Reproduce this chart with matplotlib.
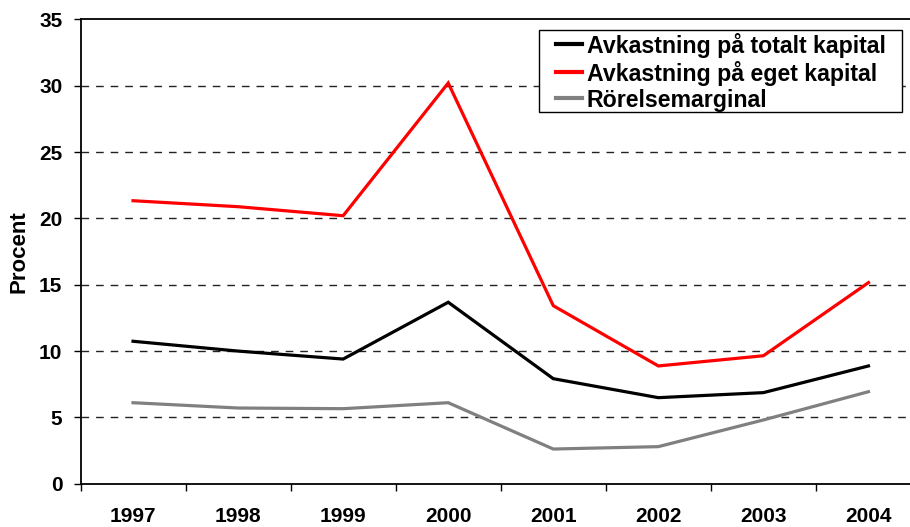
import matplotlib
matplotlib.use("Agg")
import matplotlib.pyplot as plt
from matplotlib.ticker import FixedLocator
from matplotlib.patches import Rectangle

years = ["1997", "1998", "1999", "2000", "2001", "2002", "2003", "2004"]
totalt = [10.74, 10.0, 9.4, 13.68, 7.92, 6.49, 6.87, 8.88]
eget = [21.33, 20.88, 20.2, 30.2, 13.42, 8.88, 9.65, 15.16]
marginal = [6.11, 5.71, 5.66, 6.11, 2.62, 2.8, 4.81, 6.94]
yticks = [0, 5, 10, 15, 20, 25, 30, 35]

plt.rcParams['font.family'] = ['Liberation Sans', 'DejaVu Sans']
plt.rcParams['font.weight'] = 'bold'

W, H = 910, 527
fig = plt.figure(figsize=(W / 100, H / 100), dpi=100)
left, right, top, bottom = 80.5, 921.0, 19.3, 483.8
ax = fig.add_axes([left / W, 1 - bottom / H, (right - left) / W, (bottom - top) / H])

x = list(range(len(years)))
ax.plot(x, totalt, color='black', lw=2.3, label='Avkastning på totalt kapital', solid_joinstyle='miter')
ax.plot(x, eget, color='#ff0000', lw=2.3, label='Avkastning på eget kapital', solid_joinstyle='miter')
ax.plot(x, marginal, color='#808080', lw=2.3, label='Rörelsemarginal', solid_joinstyle='miter')

ax.set_xlim(-0.5, len(years) - 0.5)
ax.set_ylim(0, 35)
ax.set_yticks(yticks)
ax.set_yticklabels([str(v) for v in yticks], fontsize=15, fontweight='bold')
ax.set_xticks(x)
ax.set_xticklabels(years, fontsize=15, fontweight='bold')
ax.xaxis.set_minor_locator(FixedLocator([i + 0.5 for i in range(-1, len(years))]))
ax.tick_params(axis='x', which='major', length=0, pad=17)
ax.tick_params(axis='x', which='minor', length=5, width=1, direction='out')
ax.tick_params(axis='y', which='major', length=5, width=1, direction='out', pad=8)

for v in yticks[1:-1]:
    ax.axhline(v, color='#222222', lw=1.0, ls=(0, (5.5, 5)), zorder=0)

for s in ax.spines.values():
    s.set_linewidth(1.3)
    s.set_color('black')

fig.text(18.5 / W, 1 - 251.5 / H, 'Procent', rotation=90, ha='center', va='center',
         fontsize=16, fontweight='bold')

leg = fig.legend(loc='upper left', bbox_to_anchor=(556 / W, 1 - 32.5 / H),
                 frameon=False, prop={'size': 16.7, 'weight': 'bold'},
                 handlelength=1.13, handletextpad=0.2, labelspacing=0.13,
                 borderpad=0, borderaxespad=0)
leg.set_zorder(6)
for ln in leg.get_lines():
    ln.set_linewidth(3.0)
fig.patches.append(Rectangle((539 / W, 1 - 112 / H), (902 - 539) / W, (112 - 30) / H,
                             transform=fig.transFigure, facecolor='white', edgecolor='black',
                             lw=1.0, zorder=4))

fig.savefig('out.png', dpi=100)
